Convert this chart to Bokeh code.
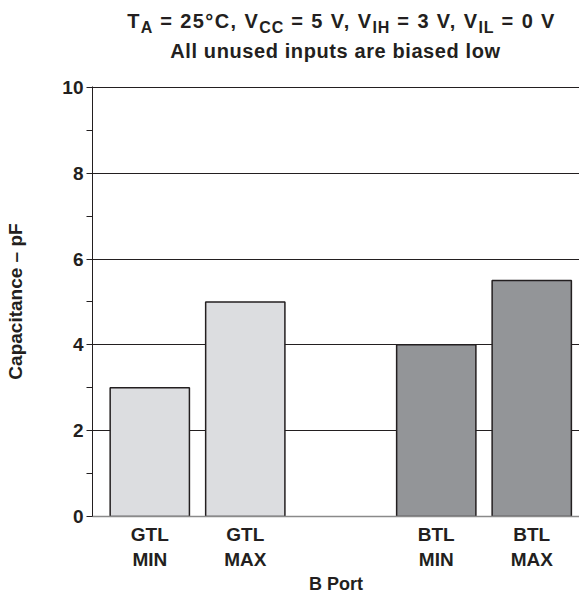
from bokeh.plotting import figure
from bokeh.models import ColumnDataSource, FixedTicker, Range1d, Div
from bokeh.layouts import column
from bokeh.embed import file_html
from bokeh.resources import INLINE

# Data
tick_labels = ["GTL\nMIN", "GTL\nMAX", "", "BTL\nMIN", "BTL\nMAX"]
capacitance = [3.0, 5.0, None, 4.0, 5.5]
bar_colors = ["#dcdde0", "#dcdde0", None, "#939598", "#939598"]

xs = [i for i, v in enumerate(capacitance) if v is not None]
src = ColumnDataSource(dict(
    x=xs,
    top=[capacitance[i] for i in xs],
    color=[bar_colors[i] for i in xs],
))

FONT = "Liberation Sans"
INK = "#231f20"

sub = 'style="font-size:16px;vertical-align:-5px;line-height:0;letter-spacing:1px;"'
title_html = (
    '<div style="margin-left:92px;width:487px;padding-top:6px;text-align:center;'
    'font-family:\'Liberation Sans\',Arial,sans-serif;font-weight:bold;'
    'font-size:20px;color:#231f20;line-height:30px;white-space:nowrap;">'
    '<div style="letter-spacing:1.4px;padding-left:12px;">'
    f'T<span {sub}>A</span> = 25\u00b0C, V<span {sub}>CC</span> = 5 V, '
    f'V<span {sub}>IH</span> = 3 V, V<span {sub}>IL</span> = 0 V</div>'
    '<div style="letter-spacing:0.6px;">All unused inputs are biased low</div></div>'
)
title = Div(text=title_html, width=579, height=78, margin=(0, 0, 0, 0))

p = figure(width=579, height=522, output_backend="svg", toolbar_location=None,
           x_range=Range1d(-0.6, 4.5), y_range=Range1d(0, 10.02),
           min_border_left=92, min_border_right=0, min_border_top=8,
           min_border_bottom=84)

p.vbar(x="x", top="top", bottom=0, width=0.83, source=src,
       fill_color="color", line_color=INK, line_width=1.5)

p.outline_line_color = None
p.xgrid.grid_line_color = None
p.ygrid.grid_line_color = INK
p.ygrid.grid_line_width = 1
p.ygrid.ticker = FixedTicker(ticks=[2, 4, 6, 8, 10])

p.yaxis.ticker = FixedTicker(ticks=[0, 2, 4, 6, 8, 10], minor_ticks=[1, 3, 5, 7, 9])
p.yaxis.axis_label = "Capacitance \u2013 pF"
p.yaxis.axis_label_text_font = FONT
p.yaxis.axis_label_text_font_style = "bold"
p.yaxis.axis_label_text_font_size = "19px"
p.yaxis.axis_label_text_color = INK
p.yaxis.axis_label_standoff = 33
p.yaxis.major_label_text_font = FONT
p.yaxis.major_label_text_font_style = "bold"
p.yaxis.major_label_text_font_size = "19px"
p.yaxis.major_label_text_color = INK
p.yaxis.major_label_standoff = 3
p.yaxis.major_tick_in = 0
p.yaxis.major_tick_out = 6
p.yaxis.minor_tick_in = 0
p.yaxis.minor_tick_out = 6
p.yaxis.axis_line_color = INK
p.yaxis.major_tick_line_color = INK
p.yaxis.minor_tick_line_color = INK

p.xaxis.ticker = FixedTicker(ticks=xs)
p.xaxis.major_label_overrides = {i: tick_labels[i] for i in xs}
p.xaxis.axis_label = "B Port"
p.xaxis.axis_label_text_font = FONT
p.xaxis.axis_label_text_font_style = "bold"
p.xaxis.axis_label_text_font_size = "18px"
p.xaxis.axis_label_text_color = INK
p.xaxis.axis_label_standoff = 1
p.xaxis.major_label_text_font = FONT
p.xaxis.major_label_text_font_style = "bold"
p.xaxis.major_label_text_font_size = "19px"
p.xaxis.major_label_text_color = INK
p.xaxis.major_label_standoff = 7
p.xaxis.major_tick_in = 0
p.xaxis.major_tick_out = 0
p.xaxis.major_tick_line_color = None
p.xaxis.minor_tick_line_color = None
p.xaxis.axis_line_color = "#8a8a8a"
p.xaxis.axis_line_width = 1.5

layout = column(title, p, spacing=0)
open("out.html", "w").write(file_html(layout, INLINE))
